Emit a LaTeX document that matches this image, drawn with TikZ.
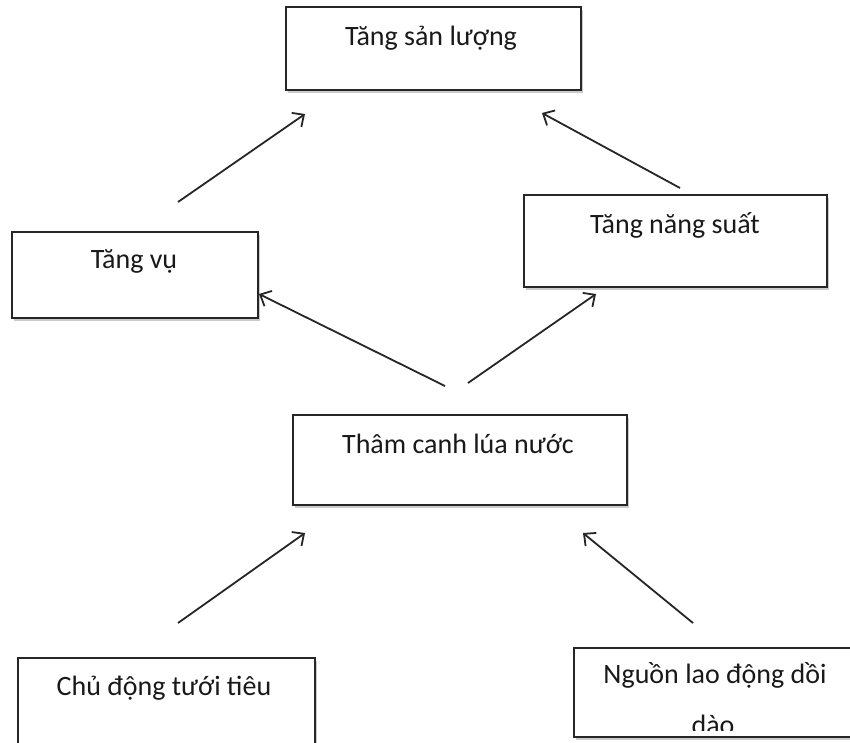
\documentclass[tikz,border=0pt]{standalone}
\usepackage{fontspec}
\setmainfont{Carlito}
\usetikzlibrary{arrows.meta,shadows}
\begin{document}
\begin{tikzpicture}[x=1pt,y=-1pt,
  box/.style={draw=black!85, line width=2pt, fill=white, rectangle, inner sep=0pt,
    drop shadow={shadow xshift=2pt,shadow yshift=-2.5pt,opacity=0.35,fill=black!60}},
  lbl/.style={anchor=base, font=\fontsize{28}{34}\selectfont, text=black!90, inner sep=0pt},
  conn/.style={line width=1.8pt, draw=black!85, -{Straight Barb[length=9pt,width=17pt,line width=1.8pt]}}]
\useasboundingbox (0,0) rectangle (850,742);
\clip (0,0) rectangle (850,742);
% boxes
\node[box, minimum width=295pt, minimum height=83pt] (b1) at (433.5,48.5) {};
\node[box, minimum width=246pt, minimum height=86pt] (b2) at (135,275) {};
\node[box, minimum width=303pt, minimum height=92pt] (b3) at (675.5,241) {};
\node[box, minimum width=334pt, minimum height=90pt] (b4) at (460,460) {};
\node[box, minimum width=297pt, minimum height=102pt] (b5) at (166.5,709) {};
\node[box, minimum width=282pt, minimum height=89pt] (b6) at (715,692.5) {};
% texts
\node[lbl] (t1) at (431,45) {Tăng sản lượng};
\node[lbl] (t2) at (134,268) {Tăng vụ};
\node[lbl] (t3) at (675,233) {Tăng năng suất};
\node[lbl] (t4) at (458,453) {Thâm canh lúa nước};
\node[lbl] (t5) at (164,695) {Chủ động tưới tiêu};
\node[lbl] (t6a) at (715,683) {Nguồn lao động dồi};
\begin{scope}
\clip (574,648) rectangle (856,730);
\node[lbl] (t6b) at (713,734) {dào};
\end{scope}
% arrow ends
\coordinate (a1s) at (178,202); \coordinate (a1e) at (305,114);
\coordinate (a2s) at (680,188); \coordinate (a2e) at (542,113);
\coordinate (a3s) at (445,386); \coordinate (a3e) at (259,294);
\coordinate (a4s) at (468,383); \coordinate (a4e) at (596,294);
\coordinate (a5s) at (178,623); \coordinate (a5e) at (305,533);
\coordinate (a6s) at (693,623); \coordinate (a6e) at (583,533);
\draw[conn] (a1s) -- (a1e);
\draw[conn] (a2s) -- (a2e);
\draw[conn] (a3s) -- (a3e);
\draw[conn] (a4s) -- (a4e);
\draw[conn] (a5s) -- (a5e);
\draw[conn] (a6s) -- (a6e);
\end{tikzpicture}
\end{document}
